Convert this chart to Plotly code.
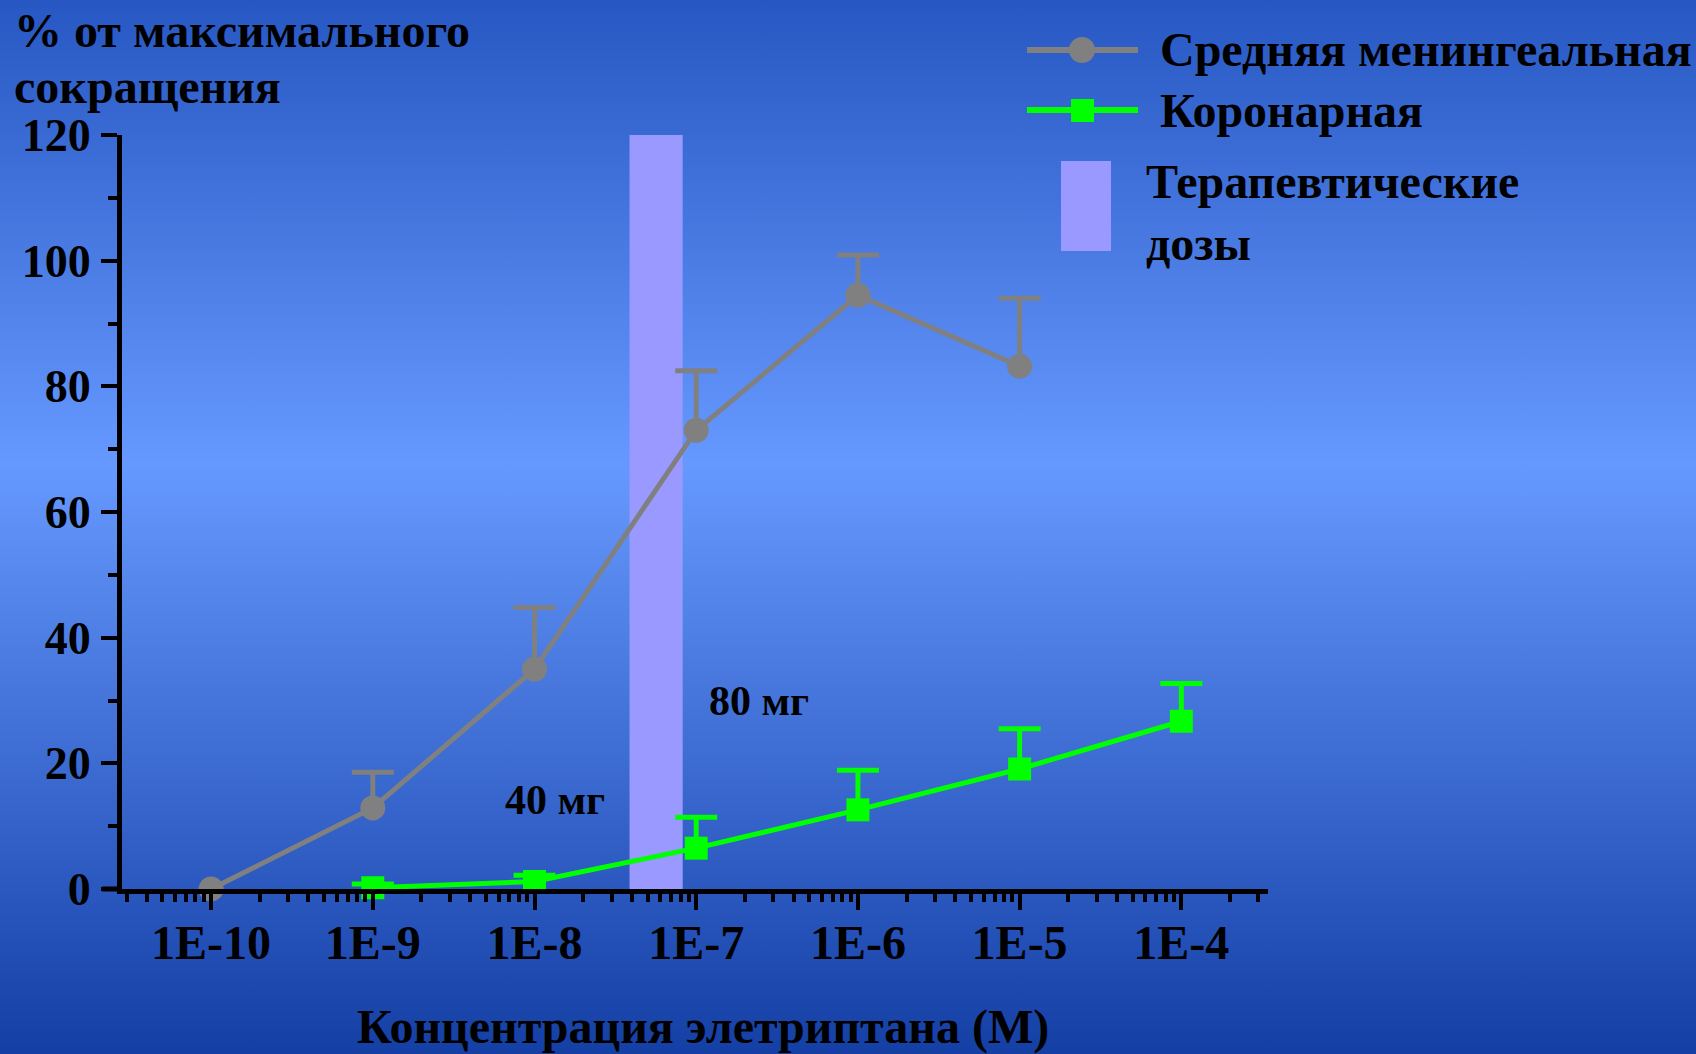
import base64
import math
import plotly.graph_objects as go

# ---------------- data ----------------
conc_men = [1e-10, 1e-9, 1e-8, 1e-7, 1e-6, 1e-5]
resp_men = [0.0, 12.9, 35.0, 73.0, 94.5, 83.2]
err_men = [0.0, 5.7, 9.8, 9.5, 6.4, 10.8]

conc_cor = [1e-9, 1e-8, 1e-7, 1e-6, 1e-5, 1e-4]
resp_cor = [0.2, 1.2, 6.5, 12.6, 19.1, 26.7]
err_cor = [0.6, 1.0, 4.9, 6.3, 6.4, 6.0]

band_conc = [3.87e-8, 8.25e-8]          # therapeutic dose range (M)
band_resp = [0, 120]

dose_labels = ["40 мг", "80 мг"]
dose_conc = [1.34e-8, 2.45e-7]
dose_resp = [14.2, 29.9]

x_tickvals = [1e-10, 1e-9, 1e-8, 1e-7, 1e-6, 1e-5, 1e-4]
x_ticktext = ["1E-10", "1E-9", "1E-8", "1E-7", "1E-6", "1E-5", "1E-4"]
y_tickvals = [0, 20, 40, 60, 80, 100, 120]

names = ["Средняя менингеальная", "Коронарная", "Терапевтические<br>дозы"]
y_title_lines = ["% от максимального", "сокращения"]
x_title = "Концентрация элетриптана (М)"

# ---------------- geometry ----------------
W, H = 1696, 1054
L, R, T, B = 122, 428, 135, 165
PW, PH = W - L - R, H - T - B


def px(x):
    return (x - L) / PW


def py(y):
    return (H - B - y) / PH


FONT = "Liberation Serif"
GRAY = "#808080"
GREEN = "#00ff00"
PURPLE = "#9999ff"

svg = ("<svg xmlns='http://www.w3.org/2000/svg' width='1696' height='1054' "
       "preserveAspectRatio='none'><defs><linearGradient id='g' x1='0' y1='0' x2='0' y2='1'>"
       "<stop offset='0' stop-color='#2757c2'/><stop offset='0.44' stop-color='#6699ff'/>"
       "<stop offset='1' stop-color='#143fa5'/></linearGradient></defs>"
       "<rect width='1696' height='1054' fill='url(#g)'/></svg>")
bg = "data:image/svg+xml;base64," + base64.b64encode(svg.encode()).decode()

fig = go.Figure()


def add_series(conc, resp, err, color, symbol, msize, name):
    # upward error stems (no caps; caps drawn as markers at the bar tops)
    fig.add_trace(go.Scatter(
        x=conc, y=resp, mode="markers", marker=dict(size=1, opacity=0),
        error_y=dict(type="data", symmetric=False, array=err,
                     arrayminus=[0] * len(err), color=color, thickness=5, width=0),
        cliponaxis=False, showlegend=False, hoverinfo="skip"))
    tops = [r + e if e > 0 else None for r, e in zip(resp, err)]
    fig.add_trace(go.Scatter(
        x=conc, y=tops, mode="markers",
        marker=dict(symbol="line-ew", size=30, line=dict(color=color, width=5)),
        cliponaxis=False, showlegend=False, hoverinfo="skip"))
    fig.add_trace(go.Scatter(
        x=conc, y=resp, name=name, mode="lines+markers",
        line=dict(color=color, width=5),
        marker=dict(symbol=symbol, size=msize, color=color),
        cliponaxis=False, showlegend=False))


add_series(conc_men, resp_men, err_men, GRAY, "circle", 25, names[0])
add_series(conc_cor, resp_cor, err_cor, GREEN, "square", 23, names[1])

shapes = []
# therapeutic band
shapes.append(dict(type="rect", xref="x", yref="y",
                   x0=band_conc[0], x1=band_conc[1], y0=band_resp[0], y1=band_resp[1],
                   fillcolor=PURPLE, line=dict(width=0), layer="below"))
# x axis line stub left of the y axis
shapes.append(dict(type="line", xref="paper", yref="paper", x0=px(102), x1=0, y0=0, y1=0,
                   line=dict(color="black", width=5)))

# manual legend glyphs
shapes.append(dict(type="line", xref="paper", yref="paper", x0=px(1027), x1=px(1138),
                   y0=py(50), y1=py(50), line=dict(color=GRAY, width=6)))
shapes.append(dict(type="circle", xref="paper", yref="paper", x0=px(1069), x1=px(1095),
                   y0=py(63), y1=py(37), fillcolor=GRAY, line=dict(width=0)))
shapes.append(dict(type="line", xref="paper", yref="paper", x0=px(1027), x1=px(1138),
                   y0=py(110), y1=py(110), line=dict(color=GREEN, width=6)))
shapes.append(dict(type="rect", xref="paper", yref="paper", x0=px(1071), x1=px(1094),
                   y0=py(122), y1=py(99), fillcolor=GREEN, line=dict(width=0)))
shapes.append(dict(type="rect", xref="paper", yref="paper", x0=px(1061), x1=px(1111),
                   y0=py(251), y1=py(161), fillcolor=PURPLE, line=dict(width=0)))

annotations = []
big_font = dict(family=FONT, size=48, color="black", weight="bold")
annotations.append(dict(xref="paper", yref="paper", x=px(1158), y=py(50), text=names[0],
                        showarrow=False, xanchor="left", yanchor="middle", font=big_font))
annotations.append(dict(xref="paper", yref="paper", x=px(1158), y=py(110), text=names[1],
                        showarrow=False, xanchor="left", yanchor="middle", font=big_font))
annotations.append(dict(xref="paper", yref="paper", x=px(1144), y=py(212), text=names[2],
                        showarrow=False, xanchor="left", yanchor="middle", align="left",
                        font=big_font))
# y title (two lines)
for line_text, ypos in zip(y_title_lines, [30, 86]):
    annotations.append(dict(xref="paper", yref="paper", x=px(12), y=py(ypos),
                            text=line_text, showarrow=False,
                            xanchor="left", yanchor="middle", align="left", font=big_font))
# x title
annotations.append(dict(xref="paper", yref="paper", x=px(703), y=py(1027),
                        text=x_title, showarrow=False,
                        xanchor="center", yanchor="middle", font=big_font))
# dose labels
for lab, c, r in zip(dose_labels, dose_conc, dose_resp):
    annotations.append(dict(xref="x", yref="y", x=math.log10(c), y=r, text=lab,
                            showarrow=False, xanchor="center", yanchor="middle",
                            font=dict(family=FONT, size=42, color="black", weight="bold")))

fig.update_layout(
    width=W, height=H,
    margin=dict(l=L, r=R, t=T, b=B, autoexpand=False),
    paper_bgcolor="rgba(0,0,0,0)", plot_bgcolor="rgba(0,0,0,0)",
    showlegend=False,
    images=[dict(source=bg, xref="paper", yref="paper", x=px(0), y=py(0),
                 sizex=W / PW, sizey=H / PH, sizing="stretch",
                 xanchor="left", yanchor="top", layer="below")],
    shapes=shapes, annotations=annotations,
    xaxis=dict(type="log", range=[-10.551, -3.464], showgrid=False, zeroline=False,
               showline=True, linecolor="black", linewidth=5,
               tickvals=x_tickvals, ticktext=x_ticktext,
               ticks="outside", ticklen=16, tickwidth=4, tickcolor="black",
               ticklabelstandoff=-9,
               minor=dict(dtick="D1", ticks="outside", ticklen=8, tickwidth=4,
                          tickcolor="black", showgrid=False),
               tickfont=dict(family=FONT, size=48, color="black", weight="bold")),
    yaxis=dict(range=[0, 120], showgrid=False, zeroline=False,
               showline=True, linecolor="black", linewidth=5,
               tickvals=y_tickvals,
               ticks="outside", ticklen=16, tickwidth=4, tickcolor="black",
               ticklabelstandoff=1,
               minor=dict(dtick=10, ticks="outside", ticklen=9, tickwidth=4,
                          tickcolor="black", showgrid=False),
               tickfont=dict(family=FONT, size=46, color="black", weight="bold")),
)

fig.write_html("out.html", config={"displayModeBar": False},
               post_script="document.body.style.margin='0px';document.body.style.overflow='hidden';")
